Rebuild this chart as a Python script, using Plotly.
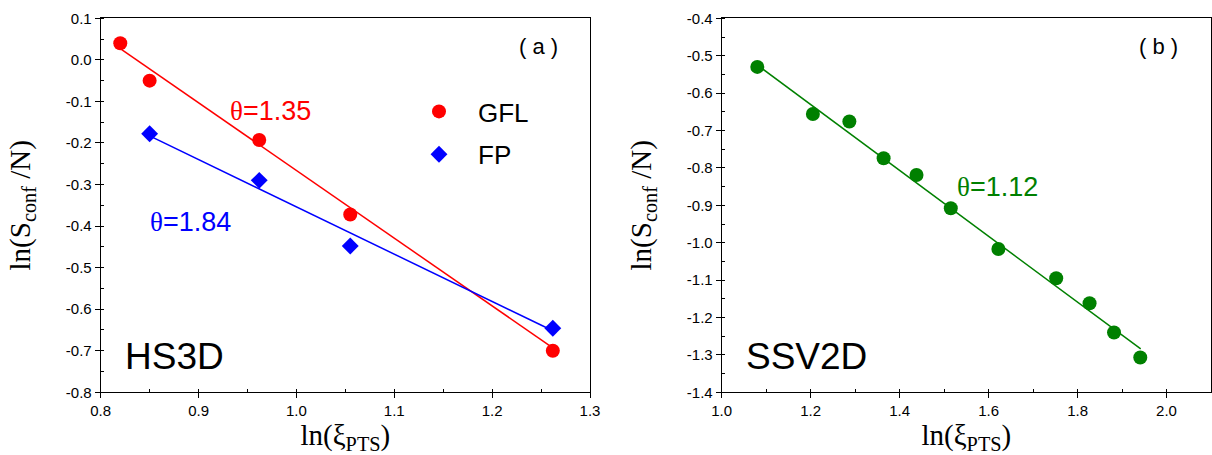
import plotly.graph_objects as go

# ---------------- data: panel (a) HS3D ----------------
gfl_x = [0.820, 0.850, 0.962, 1.055, 1.262]
gfl_y = [0.040, -0.050, -0.193, -0.372, -0.700]
fp_x = [0.850, 0.962, 1.055, 1.262]
fp_y = [-0.178, -0.290, -0.448, -0.646]
gfl_fit_x = [0.820, 1.262]
gfl_fit_y = [0.027, -0.693]
fp_fit_x = [0.850, 1.262]
fp_fit_y = [-0.183, -0.652]

# ---------------- data: panel (b) SSV2D ----------------
ssv_x = [1.080, 1.205, 1.287, 1.364, 1.438, 1.515, 1.622, 1.752, 1.827, 1.882, 1.941]
ssv_y = [-0.530, -0.656, -0.676, -0.774, -0.819, -0.908, -1.017, -1.095, -1.162, -1.240, -1.307]
ssv_fit_x = [1.080, 1.942]
ssv_fit_y = [-0.525, -1.284]

# ---------------- tick labels ----------------
a_xtick_vals = [0.8, 0.9, 1.0, 1.1, 1.2, 1.3]
a_xtick_text = ["0.8", "0.9", "1.0", "1.1", "1.2", "1.3"]
a_ytick_vals = [0.1, 0.0, -0.1, -0.2, -0.3, -0.4, -0.5, -0.6, -0.7, -0.8]
a_ytick_text = ["0.1", "0.0", "-0.1", "-0.2", "-0.3", "-0.4", "-0.5", "-0.6", "-0.7", "-0.8"]
b_xtick_vals = [1.0, 1.2, 1.4, 1.6, 1.8, 2.0]
b_xtick_text = ["1.0", "1.2", "1.4", "1.6", "1.8", "2.0"]
b_ytick_vals = [-0.4, -0.5, -0.6, -0.7, -0.8, -0.9, -1.0, -1.1, -1.2, -1.3, -1.4]
b_ytick_text = ["-0.4", "-0.5", "-0.6", "-0.7", "-0.8", "-0.9", "-1.0", "-1.1", "-1.2", "-1.3", "-1.4"]

RED = "#ff0000"
BLUE = "#0000ff"
GREEN = "#008000"
SANS = "Liberation Sans, Arial, sans-serif"
SERIF = "Liberation Serif, Times New Roman, serif"

W, H = 1212, 455
a_dom = [100.7 / W, 590.0 / W]
b_dom = [721.7 / W, 1211.0 / W]
y_dom = [(H - 392.3) / H, (H - 18.3) / H]

fig = go.Figure()

# panel (a)
fig.add_trace(go.Scatter(x=gfl_fit_x, y=gfl_fit_y, mode="lines", line=dict(color=RED, width=1.5),
                         showlegend=False, xaxis="x", yaxis="y"))
fig.add_trace(go.Scatter(x=fp_fit_x, y=fp_fit_y, mode="lines", line=dict(color=BLUE, width=1.5),
                         showlegend=False, xaxis="x", yaxis="y"))
fig.add_trace(go.Scatter(x=gfl_x, y=gfl_y, mode="markers", name="GFL", legendgroup="g1",
                         marker=dict(symbol="circle", size=14, color=RED), xaxis="x", yaxis="y"))
fig.add_trace(go.Scatter(x=fp_x, y=fp_y, mode="markers", name="FP", legendgroup="g2",
                         marker=dict(symbol="diamond", size=13, color=BLUE), xaxis="x", yaxis="y"))

# panel (b)
fig.add_trace(go.Scatter(x=ssv_fit_x, y=ssv_fit_y, mode="lines", line=dict(color=GREEN, width=1.5),
                         showlegend=False, xaxis="x2", yaxis="y2"))
fig.add_trace(go.Scatter(x=ssv_x, y=ssv_y, mode="markers", showlegend=False,
                         marker=dict(symbol="circle", size=14, color=GREEN), xaxis="x2", yaxis="y2"))

tickfont = dict(family=SANS, size=15, color="black")
titlefont = dict(family=SERIF, size=29, color="black")


def main_axis(dom, rng, vals, text, minor_d, title, standoff, anchor):
    return dict(domain=dom, range=rng, tickmode="array", tickvals=vals, ticktext=text,
                ticks="outside", ticklen=5, tickwidth=1, tickcolor="black",
                showline=True, linecolor="black", linewidth=1, mirror=True,
                showgrid=False, zeroline=False, automargin=False,
                minor=dict(tickmode="linear", tick0=rng[0], dtick=minor_d, ticks="inside",
                           ticklen=3, tickwidth=1, tickcolor="black", showgrid=False),
                tickfont=tickfont, title=dict(text=title, font=titlefont, standoff=standoff),
                anchor=anchor)


def overlay_axis(over, side, rng, major_d, minor_d, anchor):
    return dict(overlaying=over, side=side, range=rng, anchor=anchor,
                tickmode="linear", tick0=rng[0], dtick=major_d,
                ticks="inside", ticklen=5, tickwidth=1, tickcolor="black",
                showticklabels=False, showline=False, showgrid=False, zeroline=False,
                minor=dict(tickmode="linear", tick0=rng[0], dtick=minor_d, ticks="inside",
                           ticklen=3, tickwidth=1, tickcolor="black", showgrid=False))


xt = "ln(ξ<sub>PTS</sub>)"
yt = "ln(S<sub>conf</sub> /N)"

fig.update_layout(
    width=W, height=H,
    margin=dict(l=0, r=0, t=0, b=0),
    paper_bgcolor="white", plot_bgcolor="white",
    xaxis=main_axis(a_dom, [0.8, 1.3], a_xtick_vals, a_xtick_text, 0.05, xt, 16, "y"),
    yaxis=main_axis(y_dom, [-0.8, 0.1], a_ytick_vals, a_ytick_text, 0.05, yt, 26, "x"),
    xaxis2=main_axis(b_dom, [1.0, 2.1], b_xtick_vals, b_xtick_text, 0.1, xt, 16, "y2"),
    yaxis2=main_axis(y_dom, [-1.4, -0.4], b_ytick_vals, b_ytick_text, 0.05, yt, 26, "x2"),
    xaxis3=overlay_axis("x", "top", [0.8, 1.3], 0.1, 0.05, "y"),
    yaxis3=overlay_axis("y", "right", [-0.8, 0.1], 0.1, 0.05, "x"),
    xaxis4=overlay_axis("x2", "top", [1.0, 2.1], 0.2, 0.1, "y2"),
    yaxis4=overlay_axis("y2", "right", [-1.4, -0.4], 0.1, 0.05, "x2"),
    legend=dict(x=400 / W, y=(H - 88) / H, xanchor="left", yanchor="top",
                font=dict(family=SANS, size=26, color="black"),
                bgcolor="rgba(0,0,0,0)", borderwidth=0,
                itemwidth=68, traceorder="grouped", tracegroupgap=6),
    showlegend=True,
)

ann = [
    dict(text="( a )", x=1.247, y=0.032, xref="x", yref="y", font=dict(family=SANS, size=22, color="black")),
    dict(text="<span style='font-family:Liberation Serif'>θ</span>=1.35", x=0.974, y=-0.123, xref="x", yref="y",
         font=dict(family=SANS, size=27, color=RED)),
    dict(text="<span style='font-family:Liberation Serif'>θ</span>=1.84", x=0.892, y=-0.389, xref="x", yref="y",
         font=dict(family=SANS, size=27, color=BLUE)),
    dict(text="HS3D", x=0.875, y=-0.713, xref="x", yref="y", font=dict(family=SANS, size=37, color="black")),
    dict(text="( b )", x=1.983, y=-0.476, xref="x2", yref="y2", font=dict(family=SANS, size=22, color="black")),
    dict(text="<span style='font-family:Liberation Serif'>θ</span>=1.12", x=1.621, y=-0.850, xref="x2", yref="y2",
         font=dict(family=SANS, size=27, color=GREEN)),
    dict(text="SSV2D", x=1.191, y=-1.303, xref="x2", yref="y2", font=dict(family=SANS, size=37, color="black")),
]
for a in ann:
    a.update(showarrow=False, xanchor="center", yanchor="middle")
fig.update_layout(annotations=ann)

fig.write_html("out.html", config={"displayModeBar": False},
               post_script="document.body.style.margin='0px';")
